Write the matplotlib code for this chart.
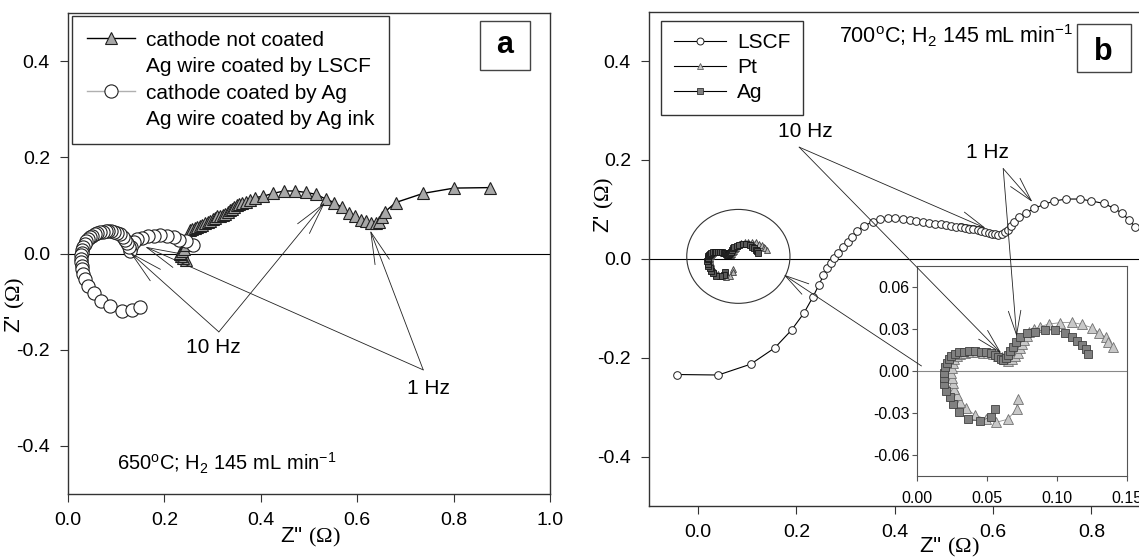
import matplotlib
matplotlib.use('Agg')
import matplotlib.pyplot as plt
from matplotlib.lines import Line2D
from matplotlib.patches import Ellipse, Rectangle
from matplotlib.ticker import FormatStrFormatter

plt.rcParams['font.family'] = ['Liberation Sans', 'DejaVu Sans']
plt.rcParams['mathtext.fontset'] = 'custom'
plt.rcParams['mathtext.rm'] = 'Liberation Serif'
plt.rcParams['mathtext.default'] = 'regular'
plt.rcParams['axes.unicode_minus'] = False

# ---- panel a : 650 C ----
tri_x = [0.245, 0.238, 0.234, 0.232, 0.233, 0.236, 0.240, 0.244, 0.248, 0.253, 0.258, 0.263,
         0.268, 0.274, 0.279, 0.284, 0.290, 0.295, 0.300, 0.305, 0.310, 0.315, 0.321, 0.326,
         0.331, 0.336, 0.341, 0.345, 0.350, 0.355, 0.362, 0.369, 0.377, 0.388, 0.404, 0.426,
         0.448, 0.471, 0.493, 0.515, 0.535, 0.552, 0.568, 0.582, 0.595, 0.607, 0.618, 0.629,
         0.639, 0.646, 0.651, 0.658, 0.680, 0.737, 0.801, 0.875]
tri_y = [-0.013, -0.010, -0.006, -0.002, 0.002, 0.006, 0.010, 0.018, 0.030, 0.048, 0.050, 0.053,
         0.055, 0.058, 0.060, 0.063, 0.066, 0.068, 0.071, 0.074, 0.077, 0.079, 0.081, 0.083,
         0.087, 0.090, 0.093, 0.096, 0.100, 0.103, 0.106, 0.108, 0.112, 0.116, 0.119, 0.125,
         0.130, 0.130, 0.127, 0.123, 0.113, 0.106, 0.096, 0.085, 0.077, 0.070, 0.067, 0.064,
         0.063, 0.066, 0.075, 0.087, 0.106, 0.125, 0.136, 0.137]

circ_x = [0.260, 0.245, 0.231, 0.219, 0.205, 0.191, 0.178, 0.165, 0.153, 0.143, 0.136, 0.131,
          0.128, 0.126, 0.123, 0.119, 0.114, 0.108, 0.102, 0.096, 0.090, 0.084, 0.078, 0.072,
          0.066, 0.060, 0.055, 0.050, 0.046, 0.042, 0.038, 0.035, 0.032, 0.030, 0.029, 0.028,
          0.028, 0.028, 0.029, 0.030, 0.032, 0.035, 0.042, 0.053, 0.068, 0.087, 0.111, 0.132,
          0.149]
circ_y = [0.017, 0.025, 0.028, 0.034, 0.037, 0.038, 0.037, 0.036, 0.032, 0.030, 0.023, 0.014,
          0.006, 0.014, 0.022, 0.029, 0.035, 0.040, 0.043, 0.045, 0.046, 0.046, 0.046, 0.045,
          0.044, 0.042, 0.040, 0.037, 0.034, 0.030, 0.025, 0.020, 0.014, 0.008, 0.002, -0.004,
          -0.011, -0.018, -0.025, -0.033, -0.042, -0.052, -0.068, -0.083, -0.099, -0.110, -0.119,
          -0.118, -0.111]

labels_a = ['cathode not coated', 'Ag wire coated by LSCF',
            'cathode coated by Ag', 'Ag wire coated by Ag ink']

# ---- panel b : 700 C ----
lscf_x = [-0.043, 0.041, 0.107, 0.156, 0.190, 0.215, 0.233, 0.246, 0.255, 0.262, 0.270, 0.277,
          0.285, 0.294, 0.304, 0.313, 0.324, 0.338, 0.355, 0.370, 0.386, 0.401, 0.416, 0.431,
          0.444, 0.458, 0.470, 0.482, 0.494, 0.504, 0.514, 0.524, 0.534, 0.543, 0.551, 0.560,
          0.569, 0.576, 0.584, 0.591, 0.598, 0.604, 0.611, 0.618, 0.625, 0.631, 0.636, 0.643,
          0.653, 0.667, 0.684, 0.703, 0.724, 0.749, 0.777, 0.800, 0.826, 0.846, 0.863, 0.877,
          0.889]
lscf_y = [-0.234, -0.235, -0.213, -0.180, -0.144, -0.110, -0.078, -0.052, -0.033, -0.019, -0.008,
          0.001, 0.012, 0.024, 0.034, 0.044, 0.057, 0.067, 0.075, 0.080, 0.082, 0.082, 0.080,
          0.079, 0.076, 0.074, 0.073, 0.071, 0.070, 0.068, 0.067, 0.065, 0.064, 0.063, 0.061,
          0.060, 0.058, 0.056, 0.054, 0.052, 0.051, 0.050, 0.049, 0.051, 0.055, 0.059, 0.066,
          0.075, 0.084, 0.093, 0.102, 0.110, 0.117, 0.121, 0.121, 0.117, 0.112, 0.102, 0.092,
          0.078, 0.065]

pt_x = [0.0717, 0.0710, 0.0645, 0.0560, 0.0488, 0.0412, 0.0348, 0.0305, 0.0281, 0.0264, 0.0252,
        0.0245, 0.0243, 0.0245, 0.0252, 0.0264, 0.0281, 0.0305, 0.0340, 0.0381, 0.0424, 0.0467,
        0.0507, 0.0543, 0.0574, 0.0602, 0.0626, 0.0650, 0.0674, 0.0698, 0.0717, 0.0733, 0.0750,
        0.0764, 0.0781, 0.0800, 0.0836, 0.0876, 0.0943, 0.1019, 0.1102, 0.1174, 0.1245, 0.1300,
        0.1345, 0.1364, 0.1395]
pt_y = [-0.0202, -0.0274, -0.0345, -0.0367, -0.0343, -0.0314, -0.0267, -0.0219, -0.0171, -0.0129,
        -0.0088, -0.0048, -0.0012, 0.0024, 0.0055, 0.0083, 0.0107, 0.0121, 0.0131, 0.0136, 0.0136,
        0.0131, 0.0126, 0.0119, 0.0110, 0.0098, 0.0083, 0.0074, 0.0086, 0.0107, 0.0131, 0.0162,
        0.0193, 0.0221, 0.0250, 0.0276, 0.0298, 0.0317, 0.0336, 0.0345, 0.0348, 0.0333, 0.0310,
        0.0274, 0.0240, 0.0210, 0.0169]

ag_x = [0.0552, 0.0524, 0.0450, 0.0360, 0.0298, 0.0257, 0.0233, 0.0205, 0.0193, 0.0190, 0.0193,
        0.0200, 0.0210, 0.0224, 0.0243, 0.0269, 0.0300, 0.0333, 0.0371, 0.0412, 0.0452, 0.0490,
        0.0524, 0.0552, 0.0576, 0.0595, 0.0614, 0.0631, 0.0645, 0.0662, 0.0681, 0.0705, 0.0733,
        0.0781, 0.0840, 0.0912, 0.0983, 0.1055, 0.1102, 0.1143, 0.1174, 0.1205, 0.1217]
ag_y = [-0.0271, -0.0329, -0.0357, -0.0343, -0.0293, -0.0236, -0.0188, -0.0143, -0.0095, -0.0052,
        -0.0012, 0.0026, 0.0055, 0.0083, 0.0107, 0.0124, 0.0133, 0.0138, 0.0140, 0.0140, 0.0138,
        0.0133, 0.0126, 0.0114, 0.0100, 0.0086, 0.0079, 0.0090, 0.0114, 0.0143, 0.0174, 0.0210,
        0.0240, 0.0269, 0.0281, 0.0293, 0.0293, 0.0274, 0.0245, 0.0214, 0.0186, 0.0155, 0.0119]

labels_b = ['LSCF', 'Pt', 'Ag']

W, H = 1139, 558
fig = plt.figure(figsize=(W / 100, H / 100), dpi=100)


def px_box(x0, y0, x1, y1):
    return [x0 / W, 1 - y1 / H, (x1 - x0) / W, (y1 - y0) / H]


def style(ax, size, length, pad, col='#333333'):
    ax.tick_params(direction='out', length=length, width=0.8, labelsize=size, pad=pad,
                   top=False, right=False, color=col)
    for s in ax.spines.values():
        s.set_linewidth(1.0)
        s.set_color(col)


ax_a = fig.add_axes(px_box(68, 13, 550, 494))
ax_b = fig.add_axes(px_box(649, 11.7, 1189.7, 506))
ax_in = fig.add_axes(px_box(917.3, 266, 1127.3, 476))

arrow_a = dict(arrowstyle='->,head_length=2.3,head_width=0.55', color='#222222', lw=0.6,
               shrinkA=0, shrinkB=0)
arrow_b = dict(arrowstyle='->,head_length=1.75,head_width=0.45', color='#222222', lw=0.6,
               shrinkA=0, shrinkB=0)

# ---------------- panel a ----------------
ax_a.axhline(0, color='black', lw=0.8, zorder=1)
ax_a.plot(tri_x, tri_y, color='black', lw=1, marker='^', ms=9, mfc='#a8a8a8', mec='#202020',
          mew=0.8, zorder=2)
ax_a.plot(circ_x, circ_y, color='#b0b0b0', lw=0.8, marker='o', ms=9.5, mfc='white',
          mec='#202020', mew=0.8, zorder=3)
ax_a.set_xlim(0, 1.0)
ax_a.set_ylim(-0.5, 0.5)
ax_a.set_xticks([0, 0.2, 0.4, 0.6, 0.8, 1.0])
ax_a.set_yticks([-0.4, -0.2, 0, 0.2, 0.4])
ax_a.xaxis.set_major_formatter(FormatStrFormatter('%.1f'))
ax_a.yaxis.set_major_formatter(FormatStrFormatter('%.1f'))
style(ax_a, 14, 6, 7)

blank = Line2D([], [], linestyle='none')
h_tri = Line2D([], [], color='black', lw=1, marker='^', ms=9, mfc='#a8a8a8', mec='#202020', mew=0.8)
h_circ = Line2D([], [], color='#b0b0b0', lw=1, marker='o', ms=9.5, mfc='white', mec='#202020',
                mew=0.8)
leg = ax_a.legend([h_tri, blank, h_circ, blank], labels_a, loc='upper left',
                  bbox_to_anchor=(0.0085, 0.9938), borderaxespad=0, fontsize=15,
                  handlelength=2.3, handletextpad=0.53, borderpad=0.7, labelspacing=0.36,
                  fancybox=False, framealpha=1, edgecolor='#333333')
leg.get_frame().set_linewidth(1.0)

ax_a.add_patch(Rectangle((0.855, 0.8815), 0.1035, 0.1015, transform=ax_a.transAxes,
                         fill=False, edgecolor='#444444', lw=1))
ax_a.text(0.906, 0.9168, 'a', transform=ax_a.transAxes, ha='center', va='baseline',
          fontsize=22, fontweight='bold')
ax_a.text(0.101, -0.452, '650$^{o}$C; H$_{2}$ 145 mL min$^{-1}$', fontsize=14.5, ha='left',
          va='baseline')

ax_a.text(0.301, -0.196, '10 Hz', fontsize=15, ha='center', va='center')
for tip in [(0.129, 0.002), (0.533, 0.106)]:
    ax_a.annotate('', xy=tip, xytext=(0.313, -0.163), arrowprops=arrow_a)
ax_a.text(0.748, -0.280, '1 Hz', fontsize=15, ha='center', va='center')
for tip in [(0.160, 0.014), (0.627, 0.048)]:
    ax_a.annotate('', xy=tip, xytext=(0.737, -0.242), arrowprops=arrow_a)

# ---------------- panel b ----------------
ax_b.axhline(0, color='black', lw=0.8, zorder=1)
ax_b.plot(lscf_x, lscf_y, color='black', lw=0.8, marker='o', ms=5.5, mfc='white',
          mec='#202020', mew=0.7, zorder=3)
ax_b.plot(pt_x, pt_y, color='#606060', lw=0.6, marker='^', ms=4.5, mfc='#b8b8b8',
          mec='#404040', mew=0.6, zorder=2)
ax_b.plot(ag_x, ag_y, color='#303030', lw=0.6, marker='s', ms=4, mfc='#5a5a5a',
          mec='#151515', mew=0.6, zorder=2)
ax_b.add_patch(Ellipse((0.0818, 0.005), 0.21, 0.19, fill=False, edgecolor='#333333', lw=0.8))
ax_b.set_xlim(-0.1, 1.0)
ax_b.set_ylim(-0.5, 0.5)
ax_b.set_xticks([0, 0.2, 0.4, 0.6, 0.8, 1.0])
ax_b.set_yticks([-0.4, -0.2, 0, 0.2, 0.4])
ax_b.xaxis.set_major_formatter(FormatStrFormatter('%.1f'))
ax_b.yaxis.set_major_formatter(FormatStrFormatter('%.1f'))
style(ax_b, 14, 6, 7)

h_l = Line2D([], [], color='black', lw=0.8, marker='o', ms=5, mfc='white', mec='#202020', mew=0.7)
h_p = Line2D([], [], color='black', lw=0.8, marker='^', ms=5, mfc='#c8c8c8', mec='#606060', mew=0.6)
h_g = Line2D([], [], color='black', lw=0.8, marker='s', ms=4.5, mfc='#808080', mec='#303030', mew=0.6)
leg_b = ax_b.legend([h_l, h_p, h_g], labels_b, loc='upper left',
                    bbox_to_anchor=(0.0231, 0.982), borderaxespad=0, fontsize=15,
                    handlelength=2.5, handletextpad=0.53, borderpad=0.6, labelspacing=0.29,
                    fancybox=False, framealpha=1, edgecolor='#333333')
leg_b.get_frame().set_linewidth(1.0)

ax_b.add_patch(Rectangle((0.7916, 0.878), 0.0998, 0.097, transform=ax_b.transAxes,
                         fill=False, edgecolor='#444444', lw=1))
ax_b.text(0.8402, 0.9023, 'b', transform=ax_b.transAxes, ha='center', va='baseline',
          fontsize=22, fontweight='bold')
ax_b.text(0.286, 0.435, '700$^{o}$C; H$_{2}$ 145 mL min$^{-1}$', fontsize=15.5, ha='left',
          va='baseline')

ax_b.text(0.217, 0.258, '10 Hz', fontsize=15, ha='center', va='center')
ax_b.annotate('', xy=(0.585, 0.062), xytext=(0.2055, 0.226), arrowprops=arrow_b)
ax_b.text(0.5886, 0.216, '1 Hz', fontsize=15, ha='center', va='center')
ax_b.annotate('', xy=(0.680, 0.115), xytext=(0.6206, 0.1826), arrowprops=arrow_b)

# ---------------- inset ----------------
ax_in.axhline(0, color='#888888', lw=0.8, zorder=1)
ax_in.plot(pt_x, pt_y, color='#909090', lw=0.6, marker='^', ms=7, mfc='#c8c8c8',
           mec='#707070', mew=0.6, zorder=2)
ax_in.plot(ag_x, ag_y, color='#606060', lw=0.6, marker='s', ms=5.5, mfc='#808080',
           mec='#404040', mew=0.6, zorder=3)
ax_in.set_xlim(0, 0.15)
ax_in.set_ylim(-0.075, 0.075)
ax_in.set_xticks([0, 0.05, 0.10, 0.15])
ax_in.set_yticks([-0.06, -0.03, 0, 0.03, 0.06])
ax_in.xaxis.set_major_formatter(FormatStrFormatter('%.2f'))
ax_in.yaxis.set_major_formatter(FormatStrFormatter('%.2f'))
style(ax_in, 11.5, 3.5, 7, col='#555555')
ax_in.tick_params(axis='y', pad=2)
for s in ax_in.spines.values():
    s.set_linewidth(0.8)

ax_in.annotate('', xy=(0.060, 0.0126), xytext=(0.2055, 0.226), textcoords=ax_b.transData,
               arrowprops=arrow_b, annotation_clip=False)
ax_in.annotate('', xy=(0.071, 0.0245), xytext=(0.6206, 0.1826), textcoords=ax_b.transData,
               arrowprops=arrow_b, annotation_clip=False)
ax_in.annotate('', xy=(0.174, -0.032), xycoords=ax_b.transData, xytext=(0.003, 0.0036),
               textcoords='data', arrowprops=arrow_b, annotation_clip=False)

# axis labels
xl = "Z'' $\\mathrm{(\\Omega)}$"
yl = "Z' $\\mathrm{(\\Omega)}$"
fig.text(310 / W, 1 - 537 / H, xl, ha='center', va='center', fontsize=16)
fig.text(949 / W, 1 - 547 / H, xl, ha='center', va='center', fontsize=16)
fig.text(15 / W, 1 - 305 / H, yl, ha='center', va='center', rotation=90, fontsize=16)
fig.text(604 / W, 1 - 205 / H, yl, ha='center', va='center', rotation=90, fontsize=16)

fig.savefig('out.png', dpi=100)
